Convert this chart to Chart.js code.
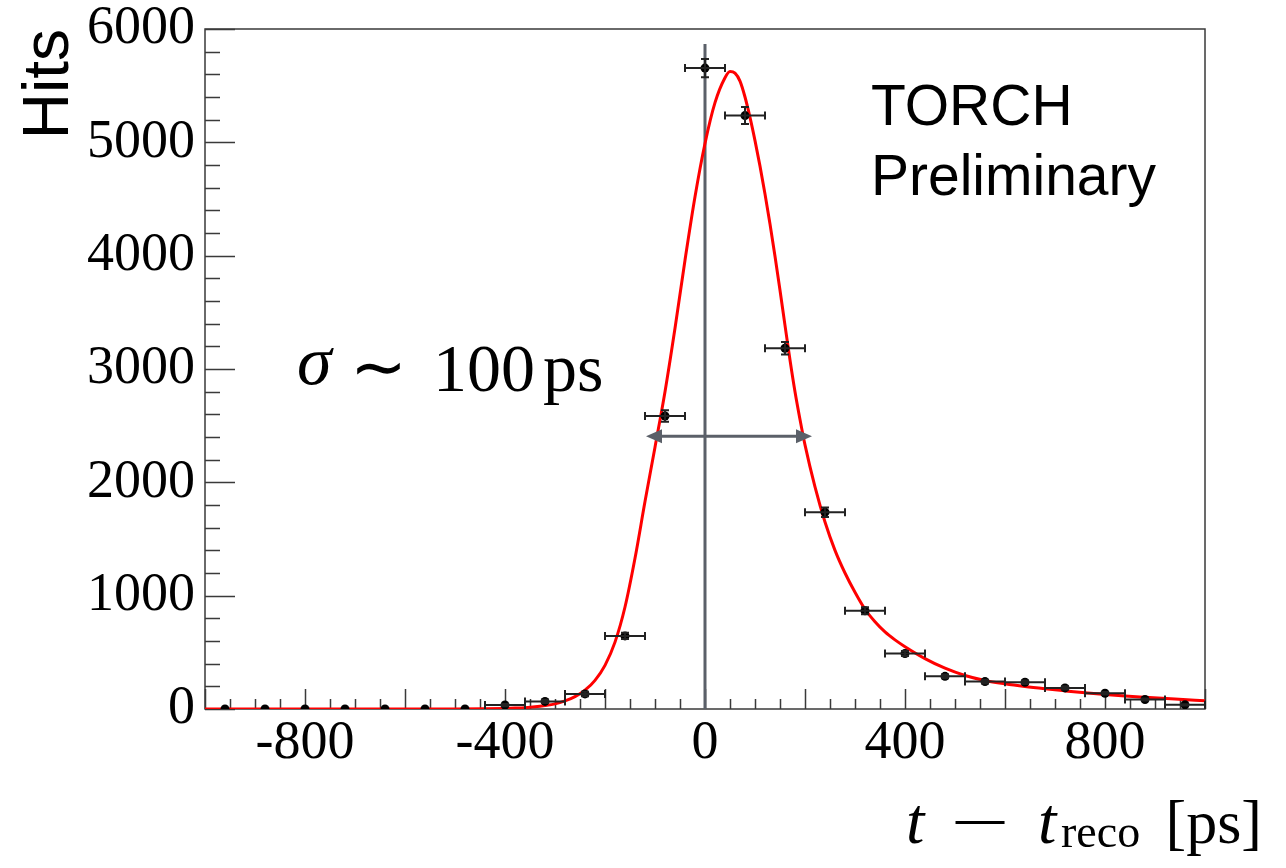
<!DOCTYPE html>
<html>
<head>
<meta charset="utf-8">
<script src="https://cdn.jsdelivr.net/npm/chart.js@4.4.1/dist/chart.umd.min.js"></script>
<style>
html,body{margin:0;padding:0;background:#fff;}
#wrap{width:1286px;height:868px;position:relative;}
canvas{display:block;}
</style>
</head>
<body>
<div id="wrap"><canvas id="c" width="1286" height="868"></canvas></div>
<script>
// ---- data ----
const binCenters = [-960,-880,-800,-720,-640,-560,-480,-400,-320,-240,-160,-80,0,80,160,240,320,400,480,560,640,720,800,880,960];
const hits       = [0,0,0,0,0,0,0,35,67,133,645,2585,5655,5236,3183,1737,867,490,288,242,236,186,139,84,37];
const hitErrors  = [0,0,0,0,0,0,0,10,15,20,28,50,80,75,56,42,30,22,17,16,15,14,12,9,6];
const binHalfWidth = 40;

const fitT    = [-1000,-500,-440,-400,-380,-360,-340,-320,-300,-280,-260,-240,-220,-200,-180,-160,-140,-120,-100,-80,-60,-40,-20,0,20,40,50,60,70,80,90,100,110,120,130,140,150,160,170,180,190,200,220,240,260,280,300,320,340,360,380,400,440,480,520,560,600,640,680,720,760,800,840,880,940,1000];
const fitHits = [0,0,2,5,8,12,19,30,45,72,109,166,253,385,590,900,1330,1830,2310,2800,3360,3960,4520,4990,5350,5570,5625,5610,5540,5400,5220,5015,4790,4545,4280,3995,3695,3385,3080,2800,2555,2330,1960,1650,1400,1200,1030,880,770,680,610,550,445,360,296,252,222,198,178,160,143,128,115,104,88,73];

const xTickLabels = [-800,-400,0,400,800];
const yTickLabels = [0,1000,2000,3000,4000,5000,6000];

const sigmaArrowEnds = [-118, 214];
const sigmaArrowLevel = 2407;
const zeroLineTop = 5867;

// ---- helper plugin: frame, inward ticks, error bars, annotations ----
const rootStyle = {
  id: 'rootStyle',
  beforeDatasetsDraw(chart) {
    const {ctx, chartArea: a, scales: {x, y}} = chart;
    ctx.save();
    // frame
    ctx.strokeStyle = '#3a3a3a';
    ctx.lineWidth = 1.5;
    ctx.strokeRect(a.left, a.top, a.right - a.left, a.bottom - a.top);
    // y ticks (inward)
    ctx.beginPath();
    for (let v = 0; v <= 6000; v += 200) {
      const py = Math.round(y.getPixelForValue(v)) + 0.5;
      const len = (v % 1000 === 0) ? 30 : 15;
      ctx.moveTo(a.left, py); ctx.lineTo(a.left + len, py);
    }
    // x ticks (inward)
    for (let v = -1000; v <= 1000; v += 50) {
      const px = Math.round(x.getPixelForValue(v)) + 0.5;
      const len = (v % 200 === 0) ? 20 : 10;
      ctx.moveTo(px, a.bottom); ctx.lineTo(px, a.bottom - len);
    }
    ctx.stroke();
    // vertical line at t = 0
    ctx.strokeStyle = '#5b6069';
    ctx.lineWidth = 3;
    ctx.beginPath();
    ctx.moveTo(x.getPixelForValue(0), y.getPixelForValue(zeroLineTop));
    ctx.lineTo(x.getPixelForValue(0), y.getPixelForValue(0));
    ctx.stroke();
    ctx.restore();
  },
  afterDatasetsDraw(chart) {
    const {ctx, scales: {x, y}} = chart;
    ctx.save();
    // error bars
    ctx.strokeStyle = '#222';
    ctx.lineWidth = 2;
    ctx.beginPath();
    binCenters.forEach((c, i) => {
      if (hits[i] <= 0) return;
      const px = x.getPixelForValue(c);
      const py = y.getPixelForValue(hits[i]);
      const x1 = x.getPixelForValue(c - binHalfWidth);
      const x2 = x.getPixelForValue(c + binHalfWidth);
      ctx.moveTo(x1, py); ctx.lineTo(x2, py);
      ctx.moveTo(x1, py - 4); ctx.lineTo(x1, py + 4);
      ctx.moveTo(x2, py - 4); ctx.lineTo(x2, py + 4);
      const e = hitErrors[i];
      if (e > 0) {
        const y1 = y.getPixelForValue(hits[i] + e);
        const y2 = y.getPixelForValue(hits[i] - e);
        ctx.moveTo(px, y1); ctx.lineTo(px, y2);
        ctx.moveTo(px - 4, y1); ctx.lineTo(px + 4, y1);
        ctx.moveTo(px - 4, y2); ctx.lineTo(px + 4, y2);
      }
    });
    ctx.stroke();
    // sigma arrow
    const ay = y.getPixelForValue(sigmaArrowLevel);
    const ax1 = x.getPixelForValue(sigmaArrowEnds[0]);
    const ax2 = x.getPixelForValue(sigmaArrowEnds[1]);
    const head = 16, hw = 7;
    ctx.strokeStyle = '#5b6069';
    ctx.fillStyle = '#5b6069';
    ctx.lineWidth = 3;
    ctx.beginPath();
    ctx.moveTo(ax1 + head - 2, ay); ctx.lineTo(ax2 - head + 2, ay);
    ctx.stroke();
    ctx.beginPath();
    ctx.moveTo(ax1, ay); ctx.lineTo(ax1 + head, ay - hw); ctx.lineTo(ax1 + head, ay + hw); ctx.closePath();
    ctx.moveTo(ax2, ay); ctx.lineTo(ax2 - head, ay - hw); ctx.lineTo(ax2 - head, ay + hw); ctx.closePath();
    ctx.fill();
    ctx.restore();
  },
  afterDraw(chart) {
    const {ctx} = chart;
    ctx.save();
    ctx.fillStyle = '#000';
    ctx.textBaseline = 'alphabetic';
    // TORCH Preliminary
    ctx.font = '57px "Liberation Sans", Arial, sans-serif';
    ctx.textAlign = 'left';
    ctx.fillText('TORCH', 871, 125);
    ctx.fillText('Preliminary', 871, 195);
    // sigma ~ 100 ps
    ctx.font = 'italic 70px "Liberation Serif", serif';
    ctx.fillText('\u03C3', 297, 384);
    ctx.font = '68px "Liberation Serif", serif';
    ctx.textAlign = 'center';
    ctx.fillText('\u223C', 378, 390);
    ctx.textAlign = 'left';
    ctx.fillText('100', 433, 391);
    ctx.fillText('ps', 543, 391);
    // x-axis title: t − t_reco [ps]
    ctx.font = 'italic 66px "Liberation Serif", serif';
    ctx.fillText('t', 906, 843);
    ctx.save();
    ctx.translate(980, 843);
    ctx.scale(1.7, 1);
    ctx.font = '62px "Liberation Serif", serif';
    ctx.textAlign = 'center';
    ctx.fillText('\u2212', 0, 0);
    ctx.restore();
    ctx.textAlign = 'left';
    ctx.font = 'italic 66px "Liberation Serif", serif';
    ctx.fillText('t', 1038, 843);
    ctx.font = '46px "Liberation Serif", serif';
    ctx.fillText('reco', 1061, 847);
    ctx.font = '62px "Liberation Serif", serif';
    ctx.textAlign = 'right';
    ctx.fillText('[ps]', 1262, 843);
    ctx.restore();
  }
};

const ctx = document.getElementById('c').getContext('2d');
new Chart(ctx, {
  type: 'scatter',
  data: {
    datasets: [
      {
        label: 'fit',
        data: fitT.map((t, i) => ({x: t, y: fitHits[i]})),
        showLine: true,
        borderColor: '#ff0000',
        borderWidth: 3,
        pointRadius: 0,
        cubicInterpolationMode: 'monotone',
        fill: false,
        order: 2
      },
      {
        label: 'hits',
        data: binCenters.map((c, i) => ({x: c, y: hits[i]})),
        backgroundColor: '#000',
        borderColor: '#000',
        borderWidth: 0,
        pointRadius: 4.5,
        order: 1
      }
    ]
  },
  options: {
    responsive: false,
    animation: false,
    events: [],
    layout: {padding: {left: 0, right: 81, top: 29, bottom: 0}},
    plugins: {legend: {display: false}, tooltip: {enabled: false}},
    scales: {
      x: {
        type: 'linear',
        min: -1000, max: 1000,
        grid: {display: false, drawTicks: false},
        border: {display: false},
        ticks: {
          font: {family: '"Liberation Serif", serif', size: 54},
          color: '#000',
          padding: 2,
          maxRotation: 0,
          autoSkip: false,
          callback: v => String(v)
        },
        afterBuildTicks: s => { s.ticks = xTickLabels.map(v => ({value: v})); },
        afterFit: s => { s.height = 159; s.paddingLeft = 0; s.paddingRight = 0; }
      },
      y: {
        type: 'linear',
        min: 0, max: 6000,
        grid: {display: false, drawTicks: false},
        border: {display: false},
        ticks: {
          font: {family: '"Liberation Serif", serif', size: 54},
          color: '#000',
          padding: 10,
          callback: v => String(v)
        },
        afterBuildTicks: s => { s.ticks = yTickLabels.map(v => ({value: v})); },
        title: {
          display: true,
          text: 'Hits',
          align: 'end',
          color: '#000',
          font: {family: '"Liberation Sans", Arial, sans-serif', size: 64},
          padding: {top: 12, bottom: 0}
        },
        afterFit: s => { s.width = 205; s.paddingTop = 0; s.paddingBottom = 0; }
      }
    }
  },
  plugins: [rootStyle]
});
</script>
</body>
</html>
